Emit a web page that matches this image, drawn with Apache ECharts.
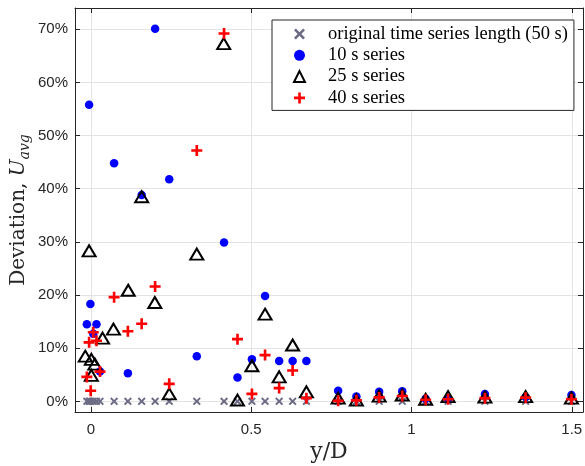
<!DOCTYPE html>
<html>
<head>
<meta charset="utf-8">
<script src="https://cdn.jsdelivr.net/npm/echarts@6/dist/echarts.min.js"></script>
<style>
  html, body { margin: 0; padding: 0; background: #fff; }
  #chart { width: 585px; height: 466px; }
</style>
</head>
<body>
<div id="chart"></div>
<script>
  // y/D positions of the original series (all sit at 0 %)
  const xOriginal = [-0.013, -0.006, -0.002, 0.007, 0.017, 0.028, 0.072, 0.115, 0.158, 0.2, 0.244, 0.33, 0.415,
    0.457, 0.502, 0.543, 0.587, 0.629, 0.672, 0.771, 0.828, 0.899, 0.971, 1.044, 1.114, 1.229, 1.356, 1.499];
  const yOriginal = xOriginal.map(() => 0);

  // [y/D, deviation %]
  const series10s = [[-0.006, 55.8], [0.072, 44.8], [0.2, 70.1], [0.244, 41.8], [0.158, 38.8], [0.415, 29.9],
    [-0.002, 18.3], [0.543, 19.8], [-0.013, 14.5], [0.017, 14.5], [0.007, 12.7], [0.028, 5.6], [0.115, 5.3],
    [0.33, 8.5], [0.457, 4.5], [0.502, 7.9], [0.587, 7.6], [0.629, 7.6], [0.672, 7.6], [0.771, 2.0],
    [0.828, 0.9], [0.899, 1.8], [0.971, 1.9], [1.044, 0.5], [1.114, 0.5], [1.229, 1.4], [1.356, 0.8], [1.499, 1.2]];

  const series25s = [[-0.006, 28.3], [-0.018, 8.5], [0.001, 7.9], [0.012, 7.0], [0.001, 4.9], [0.036, 11.9],
    [0.07, 13.6], [0.116, 20.9], [0.158, 38.5], [0.199, 18.6], [0.244, 1.4], [0.33, 27.7], [0.414, 67.3],
    [0.457, 0.25], [0.502, 6.7], [0.543, 16.4], [0.587, 4.6], [0.629, 10.6], [0.672, 1.8], [0.771, 0.6],
    [0.828, 0.25], [0.899, 1.0], [0.971, 1.2], [1.044, 0.4], [1.114, 0.9], [1.229, 0.8], [1.356, 0.9], [1.499, 0.6]];

  const series40s = [[0.415, 69.2], [0.33, 47.2], [0.072, 19.6], [0.2, 21.6], [0.158, 14.6], [0.115, 13.2],
    [0.007, 13.0], [-0.006, 11.1], [0.017, 11.4], [0.028, 5.6], [-0.013, 4.6], [-0.001, 2.0], [0.244, 3.3],
    [0.457, 11.7], [0.502, 1.4], [0.543, 8.7], [0.587, 2.5], [0.629, 5.8], [0.672, 0.6], [0.771, 0.1],
    [0.828, 0.2], [0.899, 0.75], [0.971, 1.0], [1.044, 0.3], [1.114, 0.4], [1.229, 0.6], [1.356, 0.7], [1.499, 0.4]];

  const seriesNames = ['original time series length (50 s)', '10 s series', '25 s series', '40 s series'];
  const xTicks = [0, 0.5, 1, 1.5];
  const yTicks = [0, 10, 20, 30, 40, 50, 60, 70];

  const plusPath = 'path://M3.8,0H6.2V3.8H10V6.2H6.2V10H3.8V6.2H0V3.8H3.8Z';
  const crossPath = 'path://M0,1.7L1.7,0L5,3.3L8.3,0L10,1.7L6.7,5L10,8.3L8.3,10L5,6.7L1.7,10L0,8.3L3.3,5Z';
  const axisColor = '#262626';
  const serif = 'DejaVu Serif';
  const legendSerif = 'Liberation Serif';
  const sans = 'Liberation Sans';

  const chart = echarts.init(document.getElementById('chart'));

  const boxAxis = {
    type: 'value',
    axisLine: { show: true, onZero: false, lineStyle: { color: axisColor, width: 1 } },
    axisTick: { show: true, inside: true, length: 5, lineStyle: { color: axisColor } },
    splitLine: { show: false },
    axisLabel: { show: false }
  };

  const option = {
    animation: false,
    backgroundColor: '#fff',
    grid: { left: 75, right: 2, top: 8, bottom: 54, outerBoundsMode: 'none', containLabel: false },
    legend: {
      orient: 'vertical',
      left: 272,
      top: 20,
      padding: [3.5, 6, 2, 21],
      itemGap: 0.3,
      itemWidth: 11,
      itemHeight: 11,
      backgroundColor: '#fff',
      borderColor: axisColor,
      borderWidth: 1,
      borderRadius: 0,
      textStyle: { fontFamily: legendSerif, fontSize: 18.5, color: '#000', lineHeight: 21, padding: [0, 0, 0, 18] },
      data: seriesNames
    },
    xAxis: [
      {
        type: 'value', min: -0.05, max: 1.535,
        name: 'y/D', nameLocation: 'middle', nameGap: 29, nameMoveOverlap: false,
        nameTextStyle: { fontFamily: serif, fontSize: 22, color: axisColor },
        axisLine: { show: true, onZero: false, lineStyle: { color: axisColor, width: 1 } },
        axisTick: { show: true, inside: true, length: 5, customValues: xTicks, lineStyle: { color: axisColor } },
        axisLabel: { customValues: xTicks, margin: 10, fontFamily: sans, fontSize: 15, color: axisColor },
        splitLine: { show: true, lineStyle: { color: '#e3e3e3', width: 1 } }
      },
      Object.assign({}, boxAxis, {
        position: 'top', min: -0.05, max: 1.535,
        axisTick: Object.assign({}, boxAxis.axisTick, { customValues: xTicks })
      })
    ],
    yAxis: [
      {
        type: 'value', min: -2, max: 74,
        name: 'Deviation, {i|U}{s|avg}', nameLocation: 'middle', nameGap: 43, nameMoveOverlap: false,
        nameTextStyle: {
          fontFamily: serif, fontSize: 20, color: axisColor, lineHeight: 26,
          rich: {
            i: { fontFamily: serif, fontStyle: 'italic', fontSize: 20, color: axisColor, lineHeight: 26 },
            s: { fontFamily: serif, fontStyle: 'italic', fontSize: 14, color: axisColor, lineHeight: 16, verticalAlign: 'bottom' }
          }
        },
        axisLine: { show: true, onZero: false, lineStyle: { color: axisColor, width: 1 } },
        axisTick: { show: true, inside: true, length: 5, customValues: yTicks, lineStyle: { color: axisColor } },
        axisLabel: { customValues: yTicks, margin: 7, fontFamily: sans, fontSize: 15, color: axisColor, formatter: '{value}%' },
        splitLine: { show: true, lineStyle: { color: '#e3e3e3', width: 1 } }
      },
      Object.assign({}, boxAxis, {
        position: 'right', min: -2, max: 74,
        axisTick: Object.assign({}, boxAxis.axisTick, { customValues: yTicks })
      })
    ],
    series: [
      {
        name: seriesNames[0], type: 'scatter',
        data: xOriginal.map((x, i) => [x, yOriginal[i]]),
        symbol: crossPath, symbolSize: 8,
        itemStyle: { color: '#6b6b86', opacity: 1 }, z: 2
      },
      {
        name: seriesNames[1], type: 'scatter', data: series10s,
        symbol: 'circle', symbolSize: 8.5,
        itemStyle: { color: '#0000ff', opacity: 1 }, z: 3
      },
      {
        name: seriesNames[2], type: 'scatter', data: series25s,
        symbol: 'triangle', symbolSize: [13, 11],
        itemStyle: { color: 'rgba(0,0,0,0)', borderColor: '#000', borderWidth: 2, opacity: 1 }, z: 4
      },
      {
        name: seriesNames[3], type: 'scatter', data: series40s,
        symbol: plusPath, symbolSize: 11,
        itemStyle: { color: '#ff0000', opacity: 1 }, z: 5
      }
    ]
  };

  chart.setOption(option);
</script>
</body>
</html>
